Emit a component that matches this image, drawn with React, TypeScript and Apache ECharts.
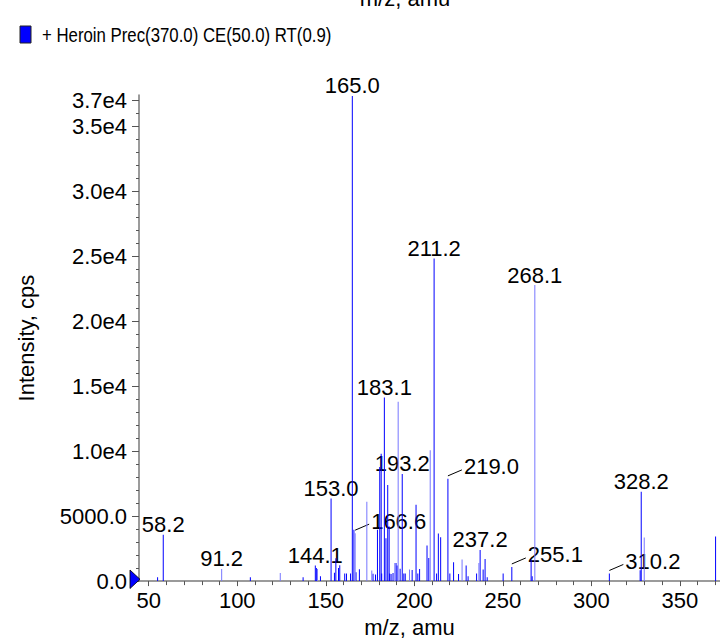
import React, { useEffect, useRef } from "react";
import * as echarts from "echarts";

// ---- data (m/z, intensity in cps) ----
const darkMz = [55.0, 58.2, 107.4, 137.2, 144.1, 144.7, 147.0, 153.0, 154.9, 155.7, 157.2, 157.9, 160.7, 161.7, 164.0, 165.0, 165.9, 167.1, 169.0, 176.7, 178.1, 179.2, 180.5, 181.3, 181.6, 183.1, 184.0, 185.0, 185.8, 186.1, 186.9, 188.0, 189.7, 190.3, 192.0, 193.2, 194.1, 194.9, 198.8, 201.0, 202.0, 203.0, 207.2, 208.2, 211.2, 212.6, 213.6, 214.9, 219.0, 220.1, 222.2, 225.0, 229.3, 230.4, 235.2, 237.2, 238.9, 240.0, 241.2, 250.2, 255.1, 266.0, 266.6, 310.2, 327.6, 328.2, 370.2];
const darkIntensity = [300, 3570, 300, 300, 1200, 1016, 380, 6360, 634, 1760, 1016, 1220, 588, 588, 588, 37350, 3950, 688, 920, 558, 500, 3950, 8790, 9800, 588, 14130, 3300, 7390, 4200, 588, 550, 620, 1400, 1200, 960, 8250, 588, 588, 850, 5880, 588, 940, 2740, 1780, 24830, 588, 3670, 3370, 7870, 588, 1450, 550, 1200, 380, 588, 2400, 890, 1700, 300, 588, 1090, 1650, 380, 588, 840, 6880, 3440];
const lightMz = [91.2, 124.3, 145.3, 166.6, 173.2, 176.0, 189.0, 190.9, 197.3, 209.0, 227.0, 236.5, 268.1, 329.9];
const lightIntensity = [940, 630, 940, 3690, 6110, 818, 1400, 13800, 890, 10080, 1660, 1400, 22790, 3360];

const labeledMz = [58.2, 91.2, 144.1, 153.0, 165.0, 166.6, 183.1, 193.2, 211.2, 219.0, 237.2, 255.1, 268.1, 310.2, 328.2];
const calloutMz = [166.6, 219.0, 255.1, 310.2];

const xTickValues = [50, 100, 150, 200, 250, 300, 350];
const yTickValues = [0, 5000, 10000, 15000, 20000, 25000, 30000, 35000, 37000];

const seriesName = "+ Heroin Prec(370.0) CE(50.0) RT(0.9)";
const xAxisTitle = "m/z, amu";
const yAxisTitle = "Intensity, cps";

const X_MIN = 44.5;
const X_MAX = 372.7;
const Y_MAX = 37420;

const FONT = "'Liberation Sans', Arial, Helvetica, sans-serif";
const DARK = "#0000ff";
const LIGHT = "#7676ff";
const AXIS = "#7a7a7a";

function lookupIntensity(mz: number): number {
  const i = darkMz.indexOf(mz);
  if (i >= 0) return darkIntensity[i];
  const j = lightMz.indexOf(mz);
  return j >= 0 ? lightIntensity[j] : 0;
}

export default function App() {
  const ref = useRef<HTMLDivElement>(null);

  useEffect(() => {
    if (!ref.current) return;
    const chart = echarts.init(ref.current, undefined, { renderer: "svg" });

    const minorX: number[] = [];
    for (let v = 50; v <= 370; v += 10) minorX.push(v);
    const minorY: number[] = [];
    for (let v = 0; v <= 37000; v += 1000) minorY.push(v);

    const barData = [
      ...darkMz.map((m, i) => ({ value: [m, darkIntensity[i]], itemStyle: { color: DARK } })),
      ...lightMz.map((m, i) => ({ value: [m, lightIntensity[i]], itemStyle: { color: LIGHT } })),
    ];
    const labelData = labeledMz.map((m) => [m, lookupIntensity(m)]);

    const yFmt = (v: number) => {
      if (v === 0) return "0.0";
      if (v < 10000) return v.toFixed(1);
      return (v / 10000).toFixed(1) + "e4";
    };

    chart.setOption({
      animation: false,
      backgroundColor: "#ffffff",
      grid: { left: 139, right: 0, top: 95, bottom: 58, containLabel: false },
      xAxis: [
        {
          type: "value",
          min: X_MIN,
          max: X_MAX,
          position: "bottom",
          name: xAxisTitle,
          nameLocation: "middle",
          nameGap: 33,
          nameTextStyle: { fontSize: 22, fontFamily: FONT, color: "#000", padding: [0, 40, 0, 0] },
          axisLine: { show: true, onZero: false, lineStyle: { color: AXIS, width: 1.5 } },
          axisTick: { show: true, length: 5, lineStyle: { color: "#555" }, customValues: xTickValues },
          axisLabel: { fontSize: 22, fontFamily: FONT, color: "#000", margin: 8, customValues: xTickValues },
          splitLine: { show: false },
        },
        {
          type: "value",
          min: X_MIN,
          max: X_MAX,
          position: "bottom",
          axisLine: { show: false },
          axisTick: { show: true, length: 4, lineStyle: { color: "#555" }, customValues: minorX },
          axisLabel: { show: false },
          splitLine: { show: false },
        },
      ],
      yAxis: [
        {
          type: "value",
          min: 0,
          max: Y_MAX,
          position: "left",
          name: yAxisTitle,
          nameLocation: "middle",
          nameGap: 102,
          nameTextStyle: { fontSize: 22, fontFamily: FONT, color: "#000" },
          axisLine: { show: true, lineStyle: { color: AXIS, width: 1.5 } },
          axisTick: { show: true, length: 7, lineStyle: { color: "#555" }, customValues: yTickValues },
          axisLabel: {
            fontSize: 22,
            fontFamily: FONT,
            color: "#000",
            margin: 12,
            customValues: yTickValues,
            formatter: (v: number) => yFmt(v),
          },
          splitLine: { show: false },
        },
        {
          type: "value",
          min: 0,
          max: Y_MAX,
          position: "left",
          axisLine: { show: false },
          axisTick: { show: true, length: 3, lineStyle: { color: "#555" }, customValues: minorY },
          axisLabel: { show: false },
          splitLine: { show: false },
        },
      ],
      series: [
        {
          name: seriesName,
          type: "bar",
          xAxisIndex: 0,
          yAxisIndex: 0,
          barWidth: 1,
          itemStyle: { color: DARK },
          data: barData,
        },
        {
          name: "labels",
          type: "custom",
          xAxisIndex: 0,
          yAxisIndex: 0,
          clip: false,
          silent: true,
          data: labelData,
          renderItem: (params: any, api: any) => {
            const mz = api.value(0);
            const inten = api.value(1);
            const pt = api.coord([mz, inten]);
            const x = pt[0];
            const y = pt[1];
            const text = labeledMz[params.dataIndex].toFixed(1);
            const style = { text, fontSize: 22, fontFamily: FONT, fill: "#000" };
            if (calloutMz.indexOf(labeledMz[params.dataIndex]) >= 0) {
              return {
                type: "group",
                children: [
                  { type: "line", shape: { x1: x, y1: y - 3, x2: x + 14, y2: y - 9 }, style: { stroke: "#000", lineWidth: 1 } },
                  { type: "text", x: x + 16, y: y - 12, style: { ...style, align: "left", verticalAlign: "middle" } },
                ],
              };
            }
            return { type: "text", x, y: y + 1, style: { ...style, align: "center", verticalAlign: "bottom" } };
          },
        },
      ],
      graphic: [
        {
          type: "rect",
          shape: { x: 20, y: 26, width: 11, height: 17 },
          style: { fill: DARK, stroke: "#222", lineWidth: 1 },
        },
        {
          type: "text",
          x: 42,
          y: 35,
          scaleX: 0.8,
          style: { text: seriesName, fontSize: 21, fontFamily: FONT, fill: "#000", align: "left", verticalAlign: "middle" },
        },
        {
          type: "polygon",
          shape: { points: [[130, 570], [130, 588.5], [140, 579.3]] },
          style: { fill: DARK, stroke: "#000", lineWidth: 0.8 },
          z: 10,
        },
        {
          type: "text",
          x: 405,
          y: 9,
          style: { text: xAxisTitle, fontSize: 22, fontFamily: FONT, fill: "#000", align: "center", verticalAlign: "bottom" },
        },
      ],
    });

    return () => chart.dispose();
  }, []);

  return <div ref={ref} style={{ position: "fixed", left: 0, top: 0, width: 720, height: 643 }} />;
}
